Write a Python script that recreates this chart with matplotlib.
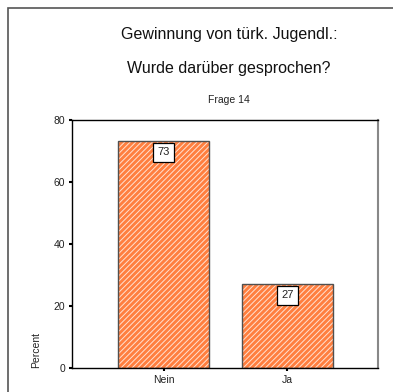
import matplotlib
matplotlib.use("Agg")
import matplotlib.pyplot as plt
from matplotlib.patches import Rectangle

categories = ["Nein", "Ja"]
percent = [73, 27]
bar_labels = ["73", "27"]
title_lines = ["Gewinnung von türk. Jugendl.:", "Wurde darüber gesprochen?"]
subtitle = "Frage 14"

plt.rcParams['font.family'] = ['Liberation Sans', 'DejaVu Sans']
plt.rcParams['hatch.linewidth'] = 0.7

W, H = 393, 392
fig = plt.figure(figsize=(W / 100, H / 100), dpi=100)

# outer frame (runs off the right and bottom edge)
fig.patches.append(Rectangle((8 / W, -0.1), 1.2, 1 - 8 / H + 0.1, transform=fig.transFigure,
                             fill=False, edgecolor='#555555', lw=1.2))

left, right, top, bottom = 72, 378, 119.5, 368
ax = fig.add_axes([left / W, 1 - bottom / H, (right - left) / W, (bottom - top) / H])

x = range(len(categories))
bar_w = 0.73
ax.bar(x, percent, width=bar_w, color='#FF7F3F', edgecolor='#FFE2D2', hatch='//////', lw=0)
ax.bar(x, percent, width=bar_w, fill=False, edgecolor='#505050', lw=1.0)

for xi, v, lab in zip(x, percent, bar_labels):
    ax.text(xi, v - 3.6, lab, ha='center', va='center', fontsize=8, color='#222222',
            bbox=dict(boxstyle='square,pad=0.38', facecolor='white', edgecolor='black', lw=0.9))

ax.set_xlim(-0.738, 1.73)
ax.set_ylim(0, 80)
ax.set_yticks([0, 20, 40, 60, 80])
ax.set_xticks(list(x))
ax.set_xticklabels(categories)
ax.tick_params(axis='both', labelsize=7.5, length=2, width=1.5, pad=3, labelcolor='#222222')
for s in ['left', 'top', 'bottom']:
    ax.spines[s].set_color('black')
    ax.spines[s].set_linewidth(1)
ax.spines['right'].set_color('#888888')
ax.spines['right'].set_linewidth(1.5)

fig.text(36 / W, 1 - 350 / H, "Percent", rotation=90, ha='center', va='center', fontsize=7.5,
         color='#222222')

fig.text(229 / W, 1 - 35 / H, title_lines[0], ha='center', va='center', fontsize=11.5, color='#111111')
fig.text(229 / W, 1 - 69 / H, title_lines[1], ha='center', va='center', fontsize=11.5, color='#111111')
fig.text(229 / W, 1 - 100 / H, subtitle, ha='center', va='center', fontsize=7.5, color='#222222')

fig.savefig("out.png", dpi=100)
